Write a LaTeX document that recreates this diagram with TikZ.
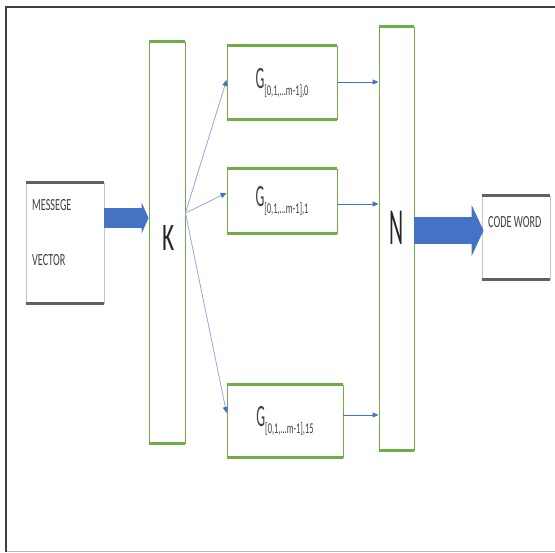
\documentclass[tikz,border=0pt]{standalone}
\usepackage{fontspec}
\setmainfont{Carlito}
\usetikzlibrary{arrows.meta,calc}
\definecolor{gboxc}{HTML}{70AD47}
\definecolor{bblue}{HTML}{4472C4}
\definecolor{lblue}{HTML}{8FAADC}
\definecolor{framec}{HTML}{404040}
\definecolor{txtc}{HTML}{404040}
\newcommand{\glab}[1]{\scalebox{0.45}[1]{\fontsize{31}{31}\selectfont G}\raisebox{-7pt}{\scalebox{0.56}[1]{\fontsize{15}{15}\selectfont #1}}}
\begin{document}
\begin{tikzpicture}[x=1pt,y=-1pt,
  gbox/.style={draw=gboxc, line width=0.9pt, inner sep=0pt, text=txtc},
  graybox/.style={draw=gray!45, line width=0.9pt, inner sep=0pt},
  thinarr/.style={draw=lblue, line width=0.8pt, -{Triangle[length=6pt,width=5pt,color=bblue,fill=bblue]}},
  outarr/.style={draw=bblue, line width=0.9pt, -{Triangle[length=6pt,width=5pt,color=bblue,fill=bblue]}},
  smalltxt/.style={text=txtc, inner sep=0pt, anchor=west}]
\useasboundingbox (0,0) rectangle (555,553);
% outer frame
\draw[gray!55, line width=1pt] (6,552) -- (555,552);
\draw[framec, line width=2.5pt] (555,7) -- (6,7) -- (6,552);

% boxes
\node[graybox, minimum width=78pt, minimum height=120pt] (msg) at (65,243) {};
\node[gbox, minimum width=36pt, minimum height=401pt] (K) at (167,242.5) {};
\node[gbox, minimum width=35pt, minimum height=423pt] (N) at (396.5,238.5) {};
\node[gbox, minimum width=110pt, minimum height=73pt] (G0) at (282,82.5) {\glab{[0,1,...m-1],0}};
\node[gbox, minimum width=110pt, minimum height=64pt] (G1) at (282,201) {\glab{[0,1,...m-1],1}};
\node[gbox, minimum width=116pt, minimum height=72pt] (G15) at (285,421) {\glab{[0,1,...m-1],15}};
\node[graybox, minimum width=68pt, minimum height=83pt] (code) at (516,237.5) {};

% thicker horizontal edges
\foreach \n in {K,N,G0,G1,G15}
  \draw[gboxc, line width=2.2pt] (\n.north west) -- (\n.north east) (\n.south west) -- (\n.south east);
\foreach \n in {msg,code}
  \draw[gray!75!black, line width=2.2pt] (\n.north west) -- (\n.north east) (\n.south west) -- (\n.south east);

% labels
\node[text=black!85, inner sep=0pt] (Kt) at (169,238) {\scalebox{0.6}[1]{\fontsize{39}{39}\selectfont K}};
\node[text=black!85, inner sep=0pt] (Nt) at (397,228) {\scalebox{0.42}[1]{\fontsize{52}{52}\selectfont N}};
\node[smalltxt] (m1) at (32,205) {\scalebox{0.6}[1]{\fontsize{17}{17}\selectfont MESSEGE}};
\node[smalltxt] (m2) at (32,260) {\scalebox{0.6}[1]{\fontsize{17}{17}\selectfont VECTOR}};
\node[smalltxt] (cw) at (488,222) {\scalebox{0.6}[1]{\fontsize{17}{17}\selectfont CODE WORD}};

% row coordinates
\coordinate (r1) at (0,218);
\coordinate (r2) at (0,230.5);
\coordinate (ko) at (185,213);
\coordinate (t0) at (0,80);
\coordinate (t1) at (0,193);
\coordinate (t15) at (0,413);
\coordinate (o0) at (0,82);
\coordinate (o1) at (0,204);
\coordinate (o15) at (0,415);

% big arrows
\draw[bblue, line width=20pt, -{Triangle[length=7pt,width=31pt]}] (msg.east |- r1) -- (K.west |- r1);
\draw[bblue, line width=27pt, -{Triangle[length=12pt,width=51pt]}] (N.east |- r2) -- ($(code.west |- r2)+(2,0)$);

% fan out
\draw[thinarr] (K.east |- ko) -- (G0.west |- t0);
\draw[thinarr] (K.east |- ko) -- (G1.west |- t1);
\draw[thinarr] (K.east |- ko) -- (G15.west |- t15);

% to N
\draw[outarr] (G0.east |- o0) -- (N.west |- o0);
\draw[outarr] (G1.east |- o1) -- (N.west |- o1);
\draw[outarr] (G15.east |- o15) -- (N.west |- o15);
\end{tikzpicture}
\end{document}
